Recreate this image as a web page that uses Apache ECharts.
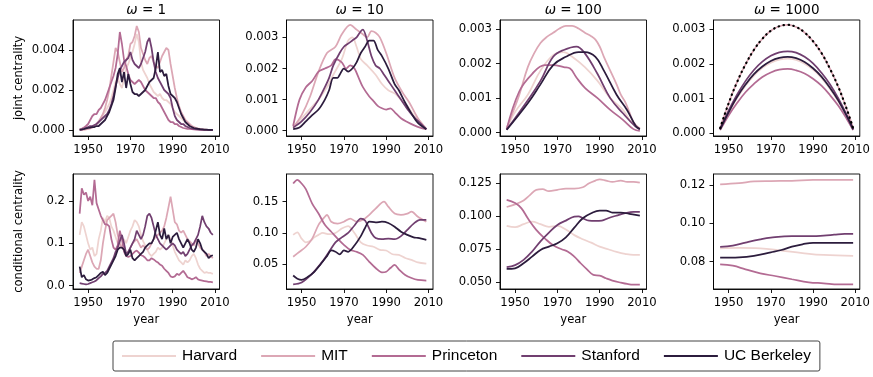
<!DOCTYPE html>
<html>
<head>
<meta charset="utf-8">
<script src="https://cdn.jsdelivr.net/npm/echarts@6/dist/echarts.min.js"></script>
<style>html,body{margin:0;padding:0;background:#fff}#c{width:873px;height:377px}</style>
</head>
<body>
<div id="c"></div>
<script>
// ---------- DATA ----------
const names = ['Harvard', 'MIT', 'Princeton', 'Stanford', 'UC Berkeley'];
const omegaLabels = ['1', '10', '100', '1000'];
const xTickValues = [1950, 1970, 1990, 2010];
const years = [1946,1947,1948,1949,1950,1951,1952,1953,1954,1955,1956,1957,1958,1959,1960,1961,1962,1963,1964,1965,1966,1967,1968,1969,1970,1971,1972,1973,1974,1975,1976,1977,1978,1979,1980,1981,1982,1983,1984,1985,1986,1987,1988,1989,1990,1991,1992,1993,1994,1995,1996,1997,1998,1999,2000,2001,2002,2003,2004,2005,2006,2007,2008,2009];

// omega = 1, joint centrality (yearly)
const j1Harvard = [0,0.00001,0.00002,0.00004,0.00007,0.0001,0.00014,0.0002,0.0003,0.00045,
 0.0006,0.00075,0.0009,0.0011,0.0013,0.0016,0.002,0.0024,0.0026,0.0023,
 0.0021,0.0026,0.0031,0.0033,0.0036,0.0039,0.0043,0.0048,0.0044,0.0034,
 0.003,0.0028,0.0026,0.0023,0.0021,0.0019,0.0018,0.0017,0.0018,0.0016,
 0.0015,0.0015,0.0014,0.0013,0.0011,0.0009,0.0008,0.0007,0.0006,0.0005,
 0.0004,0.0003,0.00025,0.0002,0.00015,0.0001,0.00008,0.00006,0.00004,0.00003,
 0.00002,0.00001,0.00001,0];
const j1MIT = [0,0.00001,0.00002,0.00003,0.00005,0.00008,0.00012,0.0002,0.0003,0.0004,
 0.0006,0.0008,0.0011,0.0015,0.002,0.0027,0.0034,0.0041,0.0039,0.0034,
 0.0029,0.0031,0.0035,0.0037,0.0043,0.0044,0.0047,0.0052,0.0049,0.0041,
 0.0038,0.0035,0.0033,0.0036,0.0037,0.0034,0.0032,0.0031,0.0034,0.0037,
 0.0039,0.0041,0.004,0.0033,0.0027,0.0021,0.0016,0.0012,0.0009,0.0007,
 0.0005,0.0004,0.0003,0.0002,0.00015,0.0001,0.00007,0.00005,0.00003,0.00002,
 0.00001,0.00001,0,0];
const j1Princeton = [0.00003,0.00006,0.00012,0.0002,0.0003,0.0005,0.0007,0.0008,0.0008,0.001,
 0.0011,0.0013,0.0015,0.0018,0.0021,0.0024,0.0027,0.0031,0.0038,0.0049,
 0.0043,0.0035,0.0032,0.0028,0.0025,0.0024,0.0023,0.0024,0.0025,0.0024,
 0.0022,0.002,0.0019,0.0018,0.0017,0.0016,0.0016,0.0014,0.0013,0.0011,
 0.0009,0.0007,0.0005,0.0004,0.0004,0.0003,0.0003,0.0002,0.00015,0.0001,
 0.00008,0.00006,0.00005,0.00004,0.00003,0.00002,0.00002,0.00001,0.00001,0.00001,
 0.00001,0,0,0];
const j1Stanford = [0,0.00002,0.00005,0.0001,0.00015,0.0002,0.0002,0.00025,0.0003,0.0004,
 0.0005,0.0006,0.0007,0.0008,0.001,0.0013,0.0017,0.0022,0.0026,0.003,
 0.0032,0.0034,0.0035,0.0036,0.0039,0.0035,0.0033,0.0032,0.0031,0.0033,
 0.0036,0.0039,0.0044,0.0046,0.0041,0.0034,0.0029,0.0026,0.0024,0.0022,
 0.002,0.0019,0.0018,0.0016,0.0011,0.0007,0.0005,0.0004,0.0003,0.0003,
 0.0002,0.00015,0.0001,0.00008,0.00006,0.00004,0.00003,0.00002,0.00002,0.00001,
 0.00001,0.00001,0.00001,0.00001];
const j1Berkeley = [0.00002,0.00003,0.00005,0.00008,0.0001,0.00012,0.00015,0.00015,0.0002,0.0002,
 0.0003,0.0004,0.0005,0.0007,0.0009,0.0012,0.0015,0.0021,0.0028,0.0031,
 0.0024,0.0029,0.0021,0.0028,0.0023,0.0019,0.0018,0.0018,0.0017,0.0018,
 0.0019,0.002,0.0022,0.0024,0.0025,0.0026,0.0031,0.0039,0.0029,0.003,
 0.0027,0.0028,0.0022,0.0018,0.0017,0.0016,0.0014,0.0011,0.0008,0.0006,
 0.0004,0.0003,0.0002,0.00015,0.0001,0.00008,0.00006,0.00004,0.00003,0.00002,
 0.00002,0.00001,0.00001,0.00001];

// omega = 10, joint centrality [year, value]
const j10Harvard = [[1946,0.0001],[1950,0.0004],[1954,0.0007],[1958,0.001],[1962,0.0014],[1965,0.0018],[1969,0.0023],[1972,0.0029],[1974,0.003],[1976,0.0027],[1978,0.0023],[1981,0.0021],[1985,0.0018],[1988,0.0015],[1991,0.0013],[1994,0.0012],[1997,0.001],[2000,0.0008],[2003,0.0005],[2006,0.0003],[2009,0.00005]];
const j10MIT = [[1946,0.0001],[1950,0.0005],[1954,0.0011],[1958,0.0019],[1962,0.0025],[1966,0.0027],[1969,0.0031],[1973,0.0034],[1976,0.00325],[1979,0.0031],[1981,0.003],[1983,0.0032],[1985,0.00315],[1987,0.003],[1990,0.0025],[1994,0.0017],[1998,0.0012],[2001,0.0009],[2005,0.0004],[2009,0.00005]];
const j10Princeton = [[1946,0.00015],[1949,0.001],[1952,0.0014],[1955,0.0016],[1958,0.0019],[1961,0.002],[1964,0.0021],[1966,0.0023],[1969,0.0022],[1971,0.002],[1973,0.0021],[1975,0.002],[1977,0.0017],[1979,0.0014],[1982,0.0011],[1984,0.00095],[1986,0.0008],[1988,0.00072],[1990,0.00068],[1992,0.00072],[1994,0.0006],[1997,0.0004],[2000,0.00028],[2003,0.00018],[2006,0.0001],[2009,0.00005]];
const j10Stanford = [[1946,0.0001],[1950,0.0003],[1954,0.0006],[1958,0.001],[1961,0.0014],[1963,0.0017],[1965,0.0021],[1968,0.0025],[1970,0.0027],[1972,0.0028],[1974,0.0029],[1976,0.003],[1978,0.0032],[1979,0.00325],[1981,0.0029],[1983,0.0024],[1985,0.0021],[1987,0.002],[1989,0.0018],[1991,0.0016],[1994,0.0013],[1997,0.001],[2000,0.0007],[2003,0.00045],[2006,0.00025],[2009,0.00005]];
const j10Berkeley = [[1946,0.00005],[1949,0.0001],[1952,0.0003],[1955,0.0005],[1958,0.00068],[1961,0.001],[1963,0.0013],[1965,0.0017],[1967,0.0017],[1968,0.0018],[1970,0.002],[1972,0.0019],[1974,0.002],[1976,0.0022],[1978,0.0025],[1980,0.0027],[1982,0.0029],[1984,0.0029],[1986,0.0026],[1988,0.0024],[1991,0.002],[1994,0.0015],[1996,0.0013],[1999,0.0009],[2002,0.00055],[2005,0.00025],[2009,0.00005]];

// omega = 100, joint centrality
const j100Harvard = [[1946,0.0001],[1950,0.0006],[1956,0.0011],[1962,0.0018],[1968,0.00225],[1973,0.00234],[1977,0.0022],[1983,0.0019],[1989,0.0015],[1995,0.001],[2001,0.00066],[2005,0.0003],[2009,0.0001]];
const j100MIT = [[1946,0.00013],[1949,0.0006],[1952,0.0011],[1956,0.0019],[1959,0.0023],[1962,0.0026],[1965,0.00278],[1968,0.0029],[1971,0.00302],[1974,0.0031],[1977,0.0031],[1980,0.00302],[1983,0.0029],[1986,0.0028],[1988,0.0027],[1990,0.0025],[1992,0.0022],[1995,0.0018],[1998,0.0014],[2000,0.0011],[2002,0.0009],[2004,0.0006],[2006,0.0003],[2009,0.00012]];
const j100Princeton = [[1946,0.0001],[1952,0.0012],[1958,0.0017],[1964,0.00196],[1968,0.00196],[1973,0.0019],[1976,0.00186],[1979,0.0016],[1983,0.0013],[1989,0.001],[1995,0.00066],[2001,0.00037],[2006,0.0001],[2009,0.00005]];
const j100Stanford = [[1946,0.00008],[1956,0.00094],[1962,0.0015],[1968,0.0022],[1973,0.0024],[1979,0.0025],[1983,0.0023],[1989,0.0017],[1995,0.001],[2001,0.00056],[2007,0.00017],[2009,0.0001]];
const j100Berkeley = [[1946,0.00008],[1956,0.00085],[1962,0.0014],[1968,0.00196],[1974,0.0022],[1980,0.00234],[1983,0.00234],[1988,0.0022],[1992,0.0018],[1998,0.0011],[2003,0.00065],[2007,0.0002],[2009,0.0001]];

// omega = 1000, joint centrality
const bigYears = [1946,1950,1954,1958,1962,1966,1970,1974,1978,1982,1986,1990,1994,1998,2002,2006,2009];
const j1000Harvard = [0.00011,0.00059,0.00101,0.00137,0.00166,0.00188,0.00203,0.00212,0.00215,0.00211,0.002,0.00183,0.00159,0.00128,0.00091,0.00048,0.00011];
const j1000MIT = [0.00015,0.00086,0.00147,0.00198,0.0024,0.00272,0.00295,0.00308,0.00312,0.00306,0.0029,0.00265,0.00231,0.00186,0.00133,0.00069,0.00015];
const j1000Princeton = [0.00009,0.00051,0.00087,0.00118,0.00142,0.00162,0.00175,0.00183,0.00185,0.00181,0.00172,0.00157,0.00137,0.0011,0.00079,0.00041,0.00009];
const j1000Stanford = [0.00012,0.00065,0.00111,0.0015,0.00182,0.00206,0.00223,0.00233,0.00236,0.00232,0.0022,0.00201,0.00174,0.00141,0.001,0.00052,0.00012];
const j1000Berkeley = [0.00011,0.0006,0.00104,0.0014,0.0017,0.00192,0.00208,0.00217,0.0022,0.00216,0.00205,0.00187,0.00163,0.00131,0.00094,0.00049,0.00011];
const j1000Reference = [0.00015,0.00086,0.00147,0.00198,0.0024,0.00272,0.00295,0.00308,0.00312,0.00306,0.0029,0.00265,0.00231,0.00186,0.00133,0.00069,0.00015];

// omega = 1, conditional centrality (yearly)
const c1Harvard = [0.12,0.15,0.14,0.12,0.1,0.085,0.09,0.07,0.075,0.11,
 0.13,0.16,0.15,0.165,0.16,0.14,0.13,0.115,0.1,0.09,
 0.095,0.11,0.1,0.115,0.13,0.14,0.155,0.15,0.14,0.12,
 0.105,0.095,0.085,0.075,0.07,0.075,0.08,0.09,0.085,0.09,
 0.1,0.11,0.12,0.11,0.095,0.08,0.07,0.06,0.055,0.05,
 0.06,0.055,0.06,0.07,0.075,0.065,0.05,0.04,0.035,0.03,
 0.032,0.03,0.03,0.028];
const c1MIT = [0.03,0.045,0.06,0.075,0.085,0.07,0.055,0.045,0.04,0.04,
 0.06,0.1,0.13,0.155,0.16,0.165,0.17,0.15,0.12,0.1,
 0.09,0.085,0.075,0.08,0.09,0.1,0.105,0.11,0.1,0.09,
 0.095,0.09,0.085,0.09,0.1,0.11,0.115,0.12,0.125,0.13,
 0.14,0.16,0.185,0.21,0.18,0.15,0.145,0.13,0.125,0.13,
 0.12,0.11,0.105,0.1,0.095,0.11,0.1,0.09,0.085,0.08,
 0.07,0.075,0.07,0.065];
const c1Princeton = [0.17,0.23,0.215,0.22,0.2,0.21,0.19,0.25,0.195,0.18,
 0.165,0.155,0.145,0.145,0.14,0.11,0.09,0.085,0.095,0.13,
 0.11,0.08,0.07,0.068,0.07,0.075,0.08,0.083,0.078,0.072,
 0.07,0.066,0.06,0.06,0.065,0.062,0.058,0.055,0.05,0.047,
 0.04,0.035,0.03,0.022,0.02,0.022,0.028,0.025,0.03,0.035,
 0.028,0.02,0.018,0.015,0.017,0.02,0.015,0.013,0.012,0.011,
 0.01,0.009,0.009,0.008];
const c1Stanford = [0.006,0.005,0.004,0.003,0.004,0.006,0.008,0.01,0.013,0.018,
 0.022,0.028,0.03,0.035,0.045,0.055,0.065,0.08,0.09,0.105,
 0.12,0.1,0.075,0.08,0.09,0.1,0.11,0.13,0.12,0.11,
 0.12,0.14,0.165,0.17,0.16,0.14,0.12,0.11,0.1,0.095,
 0.09,0.085,0.09,0.095,0.1,0.095,0.085,0.08,0.075,0.08,
 0.07,0.075,0.085,0.095,0.1,0.11,0.12,0.14,0.165,0.15,
 0.14,0.135,0.125,0.12];
const c1Berkeley = [0.045,0.02,0.025,0.015,0.012,0.013,0.015,0.018,0.02,0.025,
 0.03,0.033,0.025,0.03,0.04,0.05,0.06,0.07,0.085,0.09,
 0.09,0.085,0.07,0.075,0.085,0.065,0.06,0.065,0.07,0.075,
 0.08,0.09,0.095,0.1,0.1,0.11,0.13,0.15,0.12,0.11,
 0.135,0.11,0.12,0.1,0.115,0.12,0.125,0.11,0.1,0.09,
 0.1,0.11,0.1,0.085,0.08,0.09,0.11,0.1,0.085,0.08,
 0.075,0.065,0.07,0.072];

// omega = 10, conditional centrality
const c10Harvard = [[1946,0.097],[1948,0.101],[1950,0.091],[1952,0.085],[1954,0.087],[1956,0.093],[1958,0.097],[1960,0.1],[1963,0.098],[1966,0.1],[1969,0.107],[1972,0.111],[1975,0.1],[1978,0.085],[1981,0.08],[1984,0.078],[1987,0.073],[1990,0.072],[1993,0.066],[1996,0.065],[1999,0.06],[2002,0.057],[2005,0.053],[2009,0.051]];
const c10MIT = [[1946,0.062],[1949,0.07],[1952,0.078],[1955,0.091],[1958,0.113],[1961,0.126],[1962,0.129],[1964,0.118],[1967,0.115],[1970,0.118],[1973,0.123],[1976,0.118],[1979,0.121],[1982,0.129],[1985,0.139],[1989,0.15],[1991,0.142],[1994,0.131],[1997,0.129],[2000,0.131],[2002,0.134],[2005,0.126],[2009,0.118]];
const c10Princeton = [[1946,0.179],[1948,0.185],[1950,0.179],[1952,0.17],[1955,0.147],[1958,0.131],[1961,0.113],[1964,0.102],[1967,0.091],[1970,0.081],[1973,0.073],[1976,0.07],[1979,0.065],[1982,0.054],[1985,0.044],[1988,0.037],[1990,0.038],[1992,0.044],[1994,0.049],[1996,0.042],[1999,0.033],[2002,0.028],[2005,0.025],[2009,0.024]];
const c10Stanford = [[1946,0.018],[1950,0.021],[1955,0.035],[1960,0.055],[1963,0.07],[1966,0.085],[1969,0.093],[1972,0.1],[1975,0.112],[1978,0.123],[1980,0.12],[1983,0.1],[1985,0.092],[1988,0.09],[1991,0.091],[1994,0.09],[1997,0.095],[2000,0.105],[2003,0.115],[2006,0.121],[2009,0.121]];
const c10Berkeley = [[1946,0.032],[1948,0.027],[1950,0.025],[1953,0.03],[1956,0.038],[1959,0.05],[1962,0.063],[1964,0.072],[1966,0.07],[1968,0.066],[1970,0.072],[1972,0.07],[1975,0.08],[1978,0.095],[1980,0.108],[1982,0.118],[1985,0.117],[1988,0.118],[1991,0.116],[1994,0.11],[1997,0.102],[2000,0.097],[2003,0.093],[2005,0.092],[2009,0.089]];

// omega = 100, conditional centrality
const c100Harvard = [[1946,0.0927],[1950,0.0917],[1954,0.094],[1958,0.096],[1962,0.094],[1966,0.092],[1970,0.0927],[1974,0.09],[1978,0.0857],[1982,0.0826],[1986,0.08],[1990,0.077],[1994,0.075],[1998,0.073],[2002,0.0715],[2006,0.0707],[2009,0.0707]];
const c100MIT = [[1946,0.107],[1950,0.109],[1954,0.112],[1957,0.116],[1960,0.12],[1963,0.1205],[1966,0.119],[1970,0.12],[1974,0.121],[1978,0.121],[1982,0.122],[1985,0.125],[1988,0.127],[1990,0.128],[1993,0.127],[1996,0.126],[2000,0.127],[2003,0.126],[2006,0.126],[2009,0.1255]];
const c100Princeton = [[1946,0.1124],[1950,0.11],[1953,0.106],[1956,0.0985],[1960,0.0897],[1964,0.0833],[1968,0.078],[1972,0.075],[1975,0.0732],[1978,0.0694],[1981,0.0644],[1984,0.0598],[1987,0.0556],[1990,0.055],[1993,0.053],[1996,0.0513],[2000,0.0497],[2003,0.0487],[2006,0.0482],[2009,0.0482]];
const c100Stanford = [[1946,0.0614],[1950,0.063],[1954,0.067],[1958,0.0732],[1962,0.081],[1966,0.0876],[1970,0.0934],[1974,0.0967],[1978,0.0997],[1980,0.1],[1982,0.0985],[1985,0.0967],[1988,0.0965],[1991,0.0967],[1994,0.0985],[1998,0.1005],[2002,0.1023],[2006,0.1033],[2009,0.1033]];
const c100Berkeley = [[1946,0.0601],[1950,0.0606],[1954,0.0644],[1958,0.0694],[1962,0.0745],[1966,0.077],[1970,0.0795],[1974,0.084],[1978,0.0914],[1982,0.0985],[1986,0.1023],[1990,0.1043],[1993,0.1043],[1996,0.1028],[2000,0.1028],[2004,0.1018],[2009,0.1005]];

// omega = 1000, conditional centrality
const c1000Harvard = [[1946,0.087],[1955,0.0872],[1965,0.087],[1975,0.0858],[1985,0.0845],[1995,0.0835],[2009,0.083]];
const c1000MIT = [[1946,0.1205],[1955,0.1211],[1962,0.122],[1970,0.1222],[1980,0.1223],[1990,0.1228],[2000,0.1228],[2009,0.1228]];
const c1000Princeton = [[1946,0.0786],[1952,0.0779],[1958,0.076],[1965,0.0739],[1972,0.0725],[1980,0.0708],[1988,0.0692],[1995,0.0687],[2002,0.0681],[2009,0.0681]];
const c1000Stanford = [[1946,0.0877],[1952,0.0884],[1958,0.09],[1965,0.0917],[1970,0.0926],[1980,0.0934],[1990,0.0934],[1995,0.0937],[2000,0.0941],[2005,0.0945],[2009,0.0945]];
const c1000Berkeley = [[1946,0.0821],[1955,0.0823],[1962,0.0831],[1970,0.0849],[1975,0.0861],[1980,0.0879],[1985,0.0891],[1990,0.0899],[2000,0.0899],[2009,0.0899]];

// y tick labels per panel
const yTicksJ1 = [0, 0.002, 0.004];
const yTicksJ10 = [0, 0.001, 0.002, 0.003];
const yTicksJ100 = [0, 0.001, 0.002, 0.003];
const yTicksJ1000 = [0, 0.001, 0.002, 0.003];
const yTicksC1 = [0, 0.1, 0.2];
const yTicksC10 = [0.05, 0.10, 0.15];
const yTicksC100 = [0.050, 0.075, 0.100, 0.125];
const yTicksC1000 = [0.08, 0.10, 0.12];

// ---------- STYLE / LAYOUT ----------
const colors = ['#eed3d0', '#dca7b5', '#b36b93', '#713f70', '#2c1c3d'];
const tickFont = 'DejaVu Sans';
const tickSize = 11.6;
const colLeft = [73, 286.5, 500, 713.5];
const colW = 146.5;
const rowTop = [20, 174];
const rowH = [116, 115];

const panels = [
  { row: 0, col: 0, ymin: -0.0003, ymax: 0.0055, ticks: yTicksJ1, dec: 3, smooth: false,
    data: [years.map((y, i) => [y, j1Harvard[i]]), years.map((y, i) => [y, j1MIT[i]]), years.map((y, i) => [y, j1Princeton[i]]), years.map((y, i) => [y, j1Stanford[i]]), years.map((y, i) => [y, j1Berkeley[i]])] },
  { row: 0, col: 1, ymin: -0.00017, ymax: 0.00356, ticks: yTicksJ10, dec: 3, smooth: 0.3,
    data: [j10Harvard, j10MIT, j10Princeton, j10Stanford, j10Berkeley] },
  { row: 0, col: 2, ymin: -0.0001, ymax: 0.00327, ticks: yTicksJ100, dec: 3, smooth: 0.4,
    data: [j100Harvard, j100MIT, j100Princeton, j100Stanford, j100Berkeley] },
  { row: 0, col: 3, ymin: -0.00008, ymax: 0.00326, ticks: yTicksJ1000, dec: 3, smooth: 0.4,
    data: [j1000Harvard, j1000MIT, j1000Princeton, j1000Stanford, j1000Berkeley].map(a => bigYears.map((y, i) => [y, a[i]])),
    extra: bigYears.map((y, i) => [y, j1000Reference[i]]) },
  { row: 1, col: 0, ymin: -0.0078, ymax: 0.2637, ticks: yTicksC1, dec: 1, smooth: false,
    data: [years.map((y, i) => [y, c1Harvard[i]]), years.map((y, i) => [y, c1MIT[i]]), years.map((y, i) => [y, c1Princeton[i]]), years.map((y, i) => [y, c1Stanford[i]]), years.map((y, i) => [y, c1Berkeley[i]])] },
  { row: 1, col: 1, ymin: 0.0105, ymax: 0.1942, ticks: yTicksC10, dec: 2, smooth: 0.3,
    data: [c10Harvard, c10MIT, c10Princeton, c10Stanford, c10Berkeley] },
  { row: 1, col: 2, ymin: 0.0449, ymax: 0.132, ticks: yTicksC100, dec: 3, smooth: 0.4,
    data: [c100Harvard, c100MIT, c100Princeton, c100Stanford, c100Berkeley] },
  { row: 1, col: 3, ymin: 0.0657, ymax: 0.1259, ticks: yTicksC1000, dec: 2, smooth: 0.4,
    data: [c1000Harvard, c1000MIT, c1000Princeton, c1000Stanford, c1000Berkeley] }
];

const grid = [], xAxis = [], yAxis = [], series = [], graphic = [];
const axisLineStyle = { color: '#000', width: 0.9 };

panels.forEach((p, gi) => {
  grid.push({ left: colLeft[p.col], top: rowTop[p.row], width: colW, height: rowH[p.row],
    show: true, borderColor: '#000', borderWidth: 0.9, backgroundColor: 'transparent' });
  xAxis.push({
    gridIndex: gi, type: 'value', min: 1942.85, max: 2012.15,
    axisLine: { show: true, onZero: false, lineStyle: axisLineStyle },
    axisTick: { show: true, customValues: xTickValues, length: 4, lineStyle: axisLineStyle },
    axisLabel: { customValues: xTickValues, margin: 8, color: '#000', fontFamily: tickFont, fontSize: tickSize,
      formatter: v => String(Math.round(v)) },
    splitLine: { show: false },
    name: p.row === 1 ? 'year' : '', nameLocation: 'middle', nameGap: 25,
    nameTextStyle: { color: '#000', fontFamily: tickFont, fontSize: tickSize }
  });
  yAxis.push({
    gridIndex: gi, type: 'value', min: p.ymin, max: p.ymax,
    axisLine: { show: true, onZero: false, lineStyle: axisLineStyle },
    axisTick: { show: true, customValues: p.ticks, length: 4, lineStyle: axisLineStyle },
    axisLabel: { customValues: p.ticks, margin: 8, color: '#000', fontFamily: tickFont, fontSize: tickSize,
      formatter: v => Number(v).toFixed(p.dec) },
    splitLine: { show: false }
  });
  p.data.forEach((d, si) => {
    series.push({
      name: names[si], type: 'line', xAxisIndex: gi, yAxisIndex: gi, data: d,
      showSymbol: false, symbol: 'none', smooth: p.smooth, animation: false,
      lineStyle: { color: colors[si], width: 1.75 }, itemStyle: { color: colors[si] }
    });
  });
  if (p.extra) {
    series.push({
      name: 'uniform', type: 'line', xAxisIndex: gi, yAxisIndex: gi, data: p.extra,
      showSymbol: false, symbol: 'none', smooth: p.smooth, animation: false, z: 5,
      lineStyle: { color: '#000', width: 2.2, type: [0.5, 4.5], cap: 'round' }, itemStyle: { color: '#000' }
    });
  }
  if (p.row === 0) {
    graphic.push({ type: 'text', x: colLeft[p.col] + colW / 2, y: 10,
      style: { text: '{i|ω} = ' + omegaLabels[p.col], fill: '#000', fontFamily: tickFont, fontSize: 13.5,
        align: 'center', verticalAlign: 'middle',
        rich: { i: { fontStyle: 'italic', fontFamily: tickFont, fontSize: 13.5, fill: '#000' } } } });
  }
});

graphic.push({ type: 'text', x: 19, y: rowTop[0] + rowH[0] / 2, rotation: Math.PI / 2,
  style: { text: 'joint centrality', fill: '#000', fontFamily: tickFont, fontSize: tickSize, align: 'center', verticalAlign: 'middle' } });
graphic.push({ type: 'text', x: 19, y: rowTop[1] + rowH[1] / 2, rotation: Math.PI / 2,
  style: { text: 'conditional centrality', fill: '#000', fontFamily: tickFont, fontSize: tickSize, align: 'center', verticalAlign: 'middle' } });

const chart = echarts.init(document.getElementById('c'), null, { renderer: 'canvas' });
chart.setOption({
  animation: false,
  backgroundColor: '#fff',
  grid, xAxis, yAxis, series, graphic,
  legend: {
    data: names, left: 113, top: 341, orient: 'horizontal',
    icon: 'rect', itemWidth: 54, itemHeight: 2, itemGap: 24,
    padding: [7, 9, 7, 9], borderColor: '#444', borderWidth: 1, borderRadius: 2,
    textStyle: { color: '#000', fontFamily: 'Liberation Sans', fontSize: 15.5, padding: [0, 0, 0, 1] }
  }
});
</script>
</body>
</html>
